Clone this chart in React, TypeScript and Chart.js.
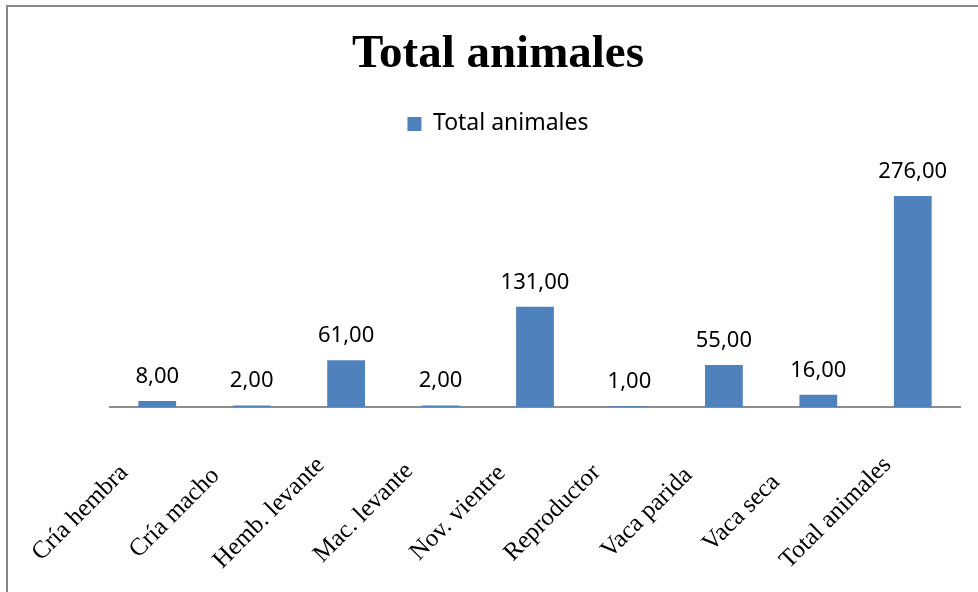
import React, { useEffect, useRef } from "react";
import { Chart, registerables } from "chart.js";

Chart.register(...registerables);

const categories = [
  "Cría hembra",
  "Cría macho",
  "Hemb. levante",
  "Mac. levante",
  "Nov. vientre",
  "Reproductor",
  "Vaca parida",
  "Vaca seca",
  "Total animales",
];
const totalAnimales = [8, 2, 61, 2, 131, 1, 55, 16, 276];
const seriesName = "Total animales";
const chartTitle = "Total animales";

const BAR_COLOR = "#4F81BD";

const dataLabelPlugin = {
  id: "dataLabels",
  afterDatasetsDraw(chart: any) {
    const ctx = chart.ctx;
    const meta = chart.getDatasetMeta(0);
    ctx.save();
    ctx.font = '22px "Noto Sans"';
    ctx.fillStyle = "#000";
    ctx.textAlign = "center";
    ctx.textBaseline = "alphabetic";
    meta.data.forEach((bar: any, i: number) => {
      const v = chart.data.datasets[0].data[i] as number;
      const txt = v.toFixed(2).replace(".", ",");
      ctx.fillText(txt, bar.x, bar.y - 18);
    });
    ctx.restore();
  },
};

const xLabelPlugin = {
  id: "xLabels",
  afterDraw(chart: any) {
    const ctx = chart.ctx;
    const xs = chart.scales.x;
    ctx.save();
    ctx.font = '25px "Liberation Serif"';
    ctx.fillStyle = "#000";
    ctx.textAlign = "center";
    ctx.textBaseline = "middle";
    const labels = chart.data.labels as string[];
    labels.forEach((lab, i) => {
      const x = xs.getPixelForTick(i) - 77;
      const y = xs.bottom + 106;
      ctx.save();
      ctx.translate(x, y);
      ctx.rotate(-Math.PI / 4);
      ctx.fillText(lab, 0, 0);
      ctx.restore();
    });
    ctx.restore();
  },
};

export default function App() {
  const ref = useRef<HTMLCanvasElement | null>(null);
  useEffect(() => {
    if (!ref.current) return;
    const chart = new Chart(ref.current, {
      type: "bar",
      data: {
        labels: categories,
        datasets: [
          {
            label: seriesName,
            data: totalAnimales,
            backgroundColor: BAR_COLOR,
            borderWidth: 0,
            barPercentage: 0.4,
            categoryPercentage: 1,
            yAxisID: "y",
          },
        ],
      },
      plugins: [dataLabelPlugin, xLabelPlugin],
      options: {
        animation: false,
        responsive: false,
        maintainAspectRatio: false,
        layout: { padding: { left: 0, right: 0, top: 0, bottom: 185 } },
        plugins: {
          title: {
            display: true,
            text: chartTitle,
            color: "#000",
            font: { family: '"Liberation Serif"', size: 47, weight: "bold" },
            padding: { top: 20, bottom: 19 },
          },
          legend: {
            display: true,
            position: "top",
            labels: {
              color: "#000",
              font: { family: '"Noto Sans"', size: 23 },
              boxWidth: 14,
              boxHeight: 14,
              padding: 10,
            },
          },
          tooltip: { enabled: false },
        },
        scales: {
          x: {
            z: 1,
            grid: { display: false, drawTicks: false },
            border: { display: true, color: "#8c8c8c", width: 2 },
            ticks: { display: false },
          },
          y: {
            position: "left",
            min: 0,
            max: 342,
            grid: { display: false, drawTicks: false },
            border: { display: false },
            ticks: { display: false },
            afterFit: (s: any) => {
              s.width = 102;
            },
          },
          yRight: {
            type: "linear",
            position: "right",
            grid: { display: false, drawTicks: false },
            border: { display: false },
            ticks: { display: false },
            afterFit: (s: any) => {
              s.width = 28;
            },
          },
        },
      },
    });
    return () => chart.destroy();
  }, []);

  return (
    <div
      style={{
        position: "fixed",
        left: 6,
        top: 5,
        width: 1000,
        height: 600,
        borderLeft: "2px solid #888",
        borderTop: "2px solid #888",
        background: "#fff",
      }}
    >
      <canvas ref={ref} width={980} height={585} style={{ display: "block", width: 980, height: 585 }} />
    </div>
  );
}
